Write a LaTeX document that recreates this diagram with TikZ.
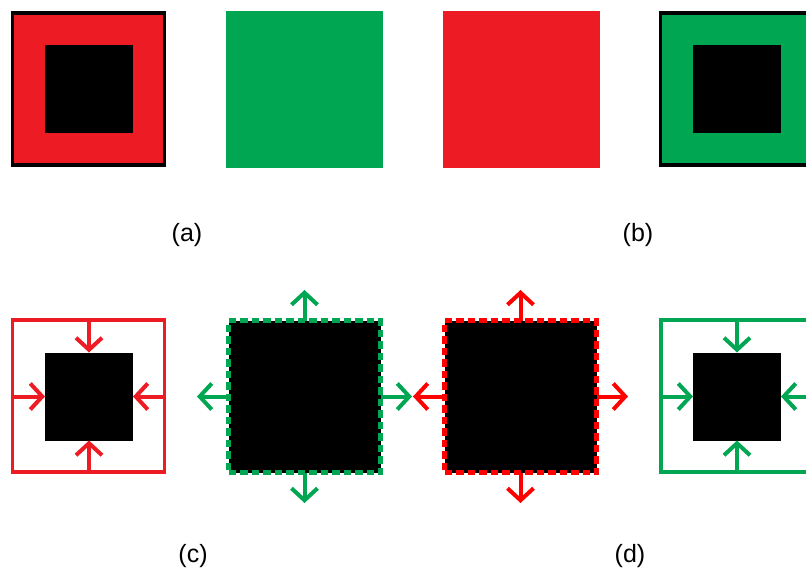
\documentclass[tikz,border=0pt]{standalone}
\usepackage{fontspec}
\setmainfont{Liberation Sans}
\usetikzlibrary{arrows.meta}
\definecolor{sred}{HTML}{ED1C24}
\definecolor{sgreen}{HTML}{00A651}
\definecolor{bred}{HTML}{FF0000}
\begin{document}
\begin{tikzpicture}[x=1pt,y=-1pt,
  sq/.style={rectangle, inner sep=0pt, outer sep=0pt, minimum size=#1},
  framed/.style={sq=152, draw=black, line width=3.5pt, fill=#1},
  core/.style={sq=88, fill=black},
  plain/.style={sq=157, fill=#1},
  outline/.style={sq=152, draw=#1, line width=3.5pt},
  dashbox/.style={sq=152, fill=black, draw=#1, line width=4.5pt, dash pattern=on 7.5pt off 4pt},
  push/.style={draw=#1, line width=4pt, -{Straight Barb[length=12pt,width=26pt]}},
  lbl/.style={font=\fontsize{25}{30}\selectfont, inner sep=0pt}
]
\useasboundingbox (0,0) rectangle (806,571);
\clip (0,0) rectangle (806,571);

% top row: solid squares
\node[framed=sred] (a1) at (88.5,89) {};
\node[core] (a1in) at (89,89) {};
\node[plain=sgreen] (a2) at (304.5,89) {};
\node[plain=sred] (b1) at (521,89) {};
\node[framed=sgreen] (b2) at (736.5,89) {};
\node[core] (b2in) at (737,89) {};

\node[lbl] (la) at (187,235) {(a)};
\node[lbl] (lb) at (638,235) {(b)};

% bottom row: inward pressure (c, left)
\node[outline=sred] (c1) at (88.5,396) {};
\node[core] (c1in) at (89,396.5) {};
\draw[push=sred] (c1.north -| c1in.north) -- (c1in.north);
\draw[push=sred] (c1.south -| c1in.south) -- (c1in.south);
\draw[push=sred] (c1.west |- c1in.west) -- (c1in.west);
\draw[push=sred] (c1.east |- c1in.east) -- (c1in.east);

% outward expansion, green dashed
\node[dashbox=sgreen] (c2) at (304.5,396.5) {};
\coordinate (c2n) at (304.5,290);
\coordinate (c2s) at (304.5,503);
\coordinate (c2w) at (197,396.5);
\coordinate (c2e) at (412,396.5);
\draw[push=sgreen] (c2.north) -- (c2n);
\draw[push=sgreen] (c2.south) -- (c2s);
\draw[push=sgreen] (c2.west) -- (c2w);
\draw[push=sgreen] (c2.east) -- (c2e);

% outward expansion, red dashed
\node[dashbox=bred] (d1) at (520.5,396.5) {};
\coordinate (d1n) at (520.5,290);
\coordinate (d1s) at (520.5,503);
\coordinate (d1w) at (413,396.5);
\coordinate (d1e) at (628,396.5);
\draw[push=bred] (d1.north) -- (d1n);
\draw[push=bred] (d1.south) -- (d1s);
\draw[push=bred] (d1.west) -- (d1w);
\draw[push=bred] (d1.east) -- (d1e);

% inward pressure (d, right)
\node[outline=sgreen] (d2) at (737,396) {};
\node[core] (d2in) at (737,396.5) {};
\draw[push=sgreen] (d2.north -| d2in.north) -- (d2in.north);
\draw[push=sgreen] (d2.south -| d2in.south) -- (d2in.south);
\draw[push=sgreen] (d2.west |- d2in.west) -- (d2in.west);
\draw[push=sgreen] (d2.east |- d2in.east) -- (d2in.east);

\node[lbl] (lc) at (193,556) {(c)};
\node[lbl] (ld) at (630,556) {(d)};
\end{tikzpicture}
\end{document}
